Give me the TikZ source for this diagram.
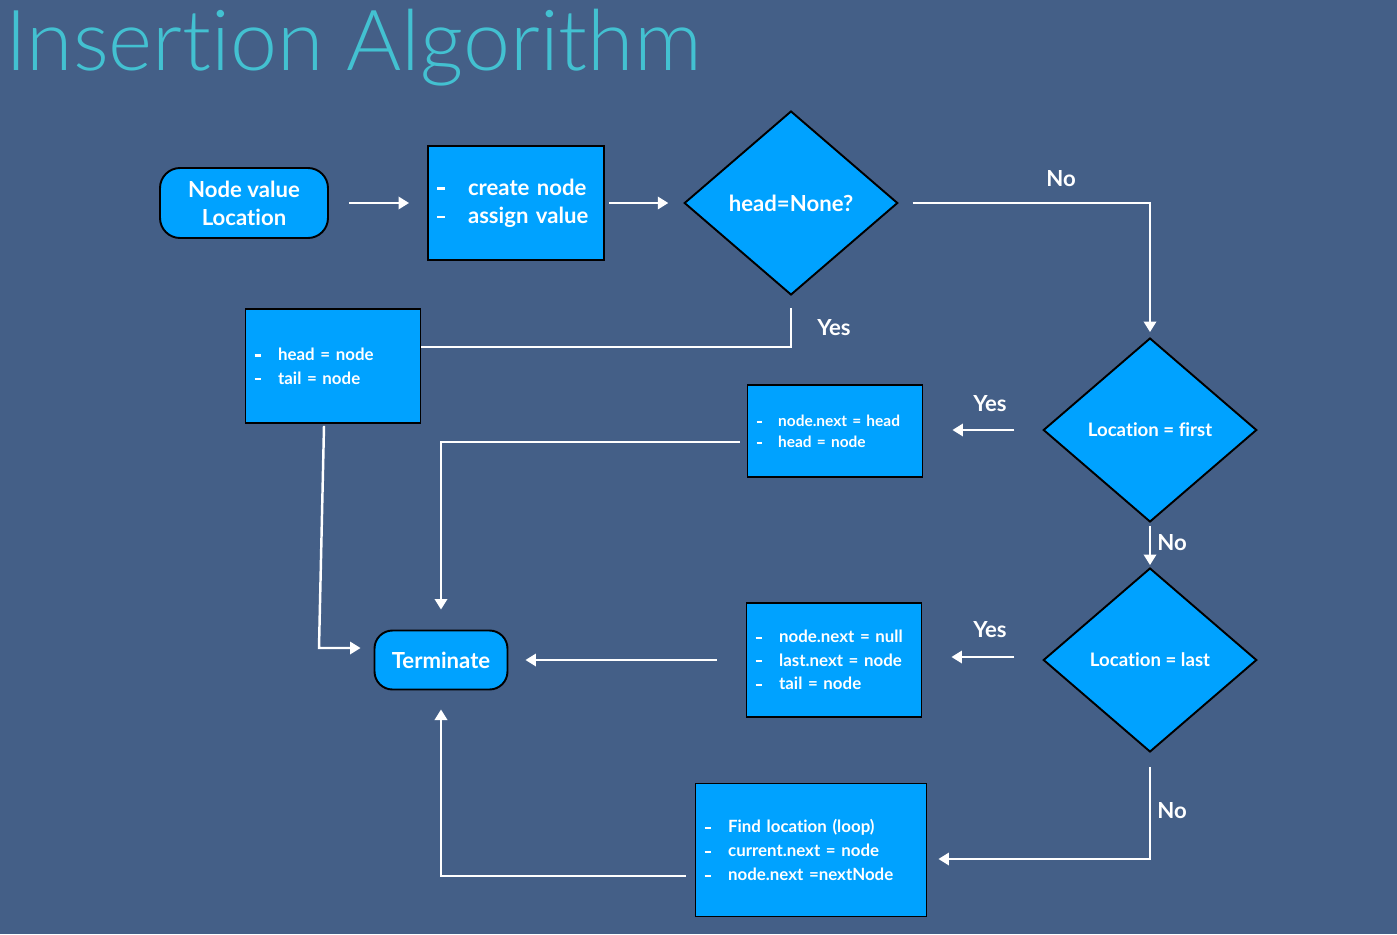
\documentclass[tikz,border=0pt]{standalone}
\usepackage{fontspec}
\setmainfont{Lato}[Ligatures=NoCommon]
\newfontfamily\titlefont{Lato}[UprightFont=* Light, Ligatures=NoCommon]
\usepackage{tikz}
\usetikzlibrary{
  positioning,
  arrows.meta,
  shapes.geometric
}
\definecolor{slidebg}{RGB}{68,95,135}
\definecolor{boxfill}{RGB}{0,162,255}
\definecolor{titlecol}{RGB}{67,193,209}
\newcommand{\itm}[1]{\makebox[1.4em][l]{\rule[0.22em]{0.38em}{0.13em}}#1}
\tikzset{
  termnode/.style={
    draw=black, fill=boxfill, rounded corners=0.4cm, line width=1.1pt,
    font=\fontsize{12.6}{16}\selectfont\bfseries, text=white, align=center
  },
  procbox/.style={
    draw=black, fill=boxfill, line width=1.1pt, inner xsep=0.18cm,
    text=white, align=left
  },
  decnode/.style={
    draw=black, fill=boxfill, diamond, line width=1.1pt, inner sep=0pt,
    minimum width=4.27cm, minimum height=3.68cm,
    text=white, align=center
  },
  flowarrow/.style={
    draw=white, line width=1.4pt, -{Triangle[length=6pt,width=7pt]}
  },
  flowline/.style={
    draw=white, line width=1.4pt
  },
  answer/.style={
    text=white, font=\fontsize{12.6}{15}\selectfont\bfseries
  }
}
\begin{document}
\begin{tikzpicture}[x=0.02cm, y=-0.02cm]
        \fill[slidebg] (0,0) rectangle (1397,934);
        \useasboundingbox (0,0) rectangle (1397,934);
        \node[anchor=base west, inner sep=0pt, text=titlecol, font=\titlefont\fontsize{48}{50}\selectfont] (title) at (5,70) {Insertion Algorithm};
        % top row
        \node[termnode, minimum width=3.36cm, minimum height=1.4cm] (start) at (244,203) {Node value\\Location};
        \node[procbox, minimum width=3.52cm, minimum height=2.28cm, text width=3.16cm, font=\fontsize{12.6}{16}\selectfont\bfseries] (create) at (516,203) {\itm{create node}\\\itm{assign value}};
        \node[decnode, font=\fontsize{12.6}{15}\selectfont\bfseries] (isempty) at (791,203) {head=None?};
        \node[procbox, minimum width=3.5cm, minimum height=2.28cm, text width=3.14cm, font=\fontsize{9.6}{13.6}\selectfont\bfseries] (headbox) at (333,366) {\itm{head = node}\\\itm{tail = node}};
        % right column
        \node[decnode, font=\fontsize{10.6}{13}\selectfont\bfseries] (locfirst) at (1150,430) {Location = first};
        \node[decnode, font=\fontsize{10.6}{13}\selectfont\bfseries] (loclast) at (1150,660) {Location = last};
        \node[procbox, minimum width=3.5cm, minimum height=1.84cm, text width=3.14cm, font=\fontsize{8.8}{12}\selectfont\bfseries] (firstbox) at (835,431) {\itm{node.next = head}\\\itm{head = node}};
        \node[procbox, minimum width=3.5cm, minimum height=2.28cm, text width=3.14cm, font=\fontsize{9.6}{13.4}\selectfont\bfseries] (lastbox) at (834,660) {\itm{node.next = null}\\\itm{last.next = node}\\\itm{tail = node}};
        \node[procbox, minimum width=4.62cm, minimum height=2.66cm, text width=4.26cm, font=\fontsize{9.6}{13.6}\selectfont\bfseries] (loopbox) at (811,850) {\itm{Find location (loop)}\\\itm{current.next = node}\\\itm{node.next =nextNode}};
        \node[termnode, rounded corners=0.36cm, minimum width=2.66cm, minimum height=1.18cm] (terminate) at (441,660) {Terminate};
        % answers
        \node[answer] (noA) at (1061,179) {No};
        \node[answer] (yesA) at (834,328) {Yes};
        \node[answer] (yesB) at (990,404) {Yes};
        \node[answer] (noB) at (1172,543) {No};
        \node[answer] (yesC) at (990,630) {Yes};
        \node[answer] (noC) at (1172,811) {No};
        % connectors
        \coordinate (bendA) at (319,648);
        \draw[flowarrow, shorten <=0.4cm, shorten >=0.36cm] (start) -- (create);
        \draw[flowarrow, shorten <=0.08cm, shorten >=0.3cm] (create) -- (isempty);
        \draw[flowarrow, shorten <=0.28cm, shorten >=0.1cm] (isempty.east) -| (locfirst.north);
        \draw[flowline] ([yshift=-0.24cm]isempty.south) |- ([yshift=0.38cm]headbox.east);
        \draw[flowarrow, shorten >=0.26cm] ([xshift=-0.18cm,yshift=-0.04cm]headbox.south) -- (bendA) -- ([yshift=0.24cm]terminate.west);
        \draw[flowarrow, shorten <=0.56cm, shorten >=0.58cm] (locfirst.west) -- (firstbox.east |- locfirst.west);
        \draw[flowarrow, shorten <=0.14cm, shorten >=0.4cm] ([yshift=-0.22cm]firstbox.west) -| (terminate.north);
        \draw[flowarrow, shorten <=0.06cm, shorten >=0.04cm] (locfirst.south) -- (loclast.north);
        \draw[flowarrow, shorten <=0.56cm, shorten >=0.58cm] ([yshift=0.06cm]loclast.west) -- ([yshift=0.06cm]lastbox.east |- loclast.west);
        \draw[flowarrow, shorten <=0.58cm, shorten >=0.34cm] (lastbox.west) -- (terminate.east);
        \draw[flowarrow, shorten >=0.22cm] ([yshift=-0.28cm]loclast.south) |- ([yshift=-0.18cm]loopbox.east);
        \draw[flowarrow, shorten >=0.38cm] ([xshift=-0.18cm,yshift=-0.52cm]loopbox.west) -| (terminate.south);
      \end{tikzpicture}
\end{document}
